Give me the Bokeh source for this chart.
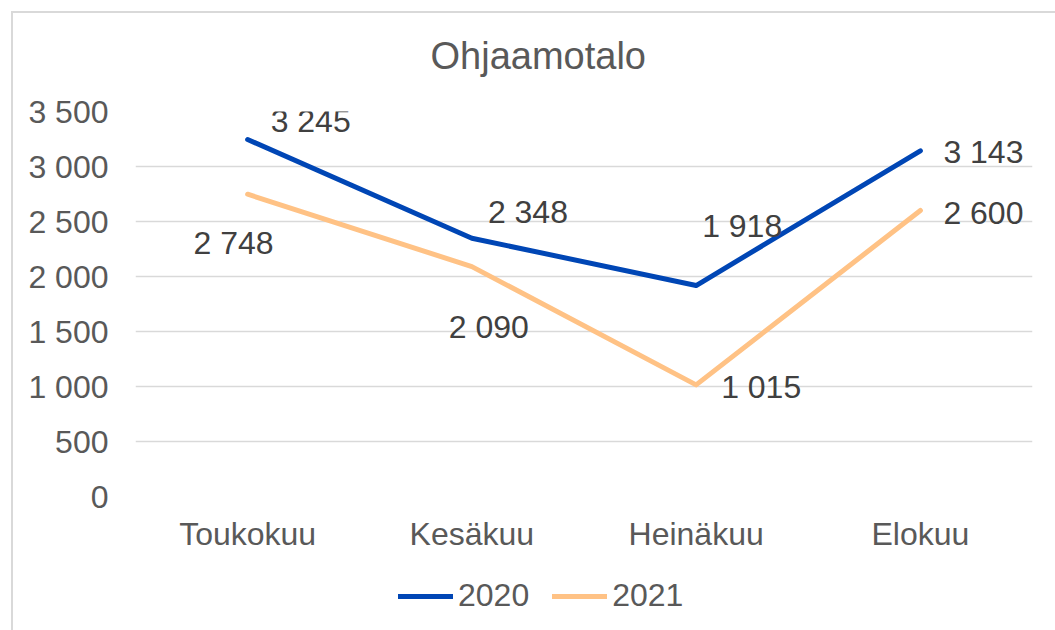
from bokeh.plotting import figure
from bokeh.layouts import column
from bokeh.models import ColumnDataSource, Legend, LegendItem, FixedTicker
from bokeh.embed import file_html
from bokeh.resources import INLINE
from bokeh.core.properties import value

months = ["Toukokuu", "Kesäkuu", "Heinäkuu", "Elokuu"]
v2020 = [3245, 2348, 1918, 3143]
v2021 = [2748, 2090, 1015, 2600]
y_ticks = [0, 500, 1000, 1500, 2000, 2500, 3000, 3500]
series_names = ["2020", "2021"]


def fmt(n):
    return f"{n:,}".replace(",", " ")


FONT = "Liberation Sans"
BLUE = "#0046B5"
ORANGE = "#FFC285"
LW = 5

p = figure(x_range=months, y_range=(0, 3500), width=1042, height=547,
           output_backend="svg", toolbar_location=None,
           min_border_left=122, min_border_right=23,
           min_border_top=98, min_border_bottom=64)
p.outline_line_color = None

p.title.text = "Ohjaamotalo"
p.title.align = "left"
p.title.offset = 295
try:
    p.title.padding = dict(left=0, right=0, top=0, bottom=30)
except Exception:
    p.title.padding = (0, 0, 0, 30)
p.title.text_font = FONT
p.title.text_font_size = "38px"
p.title.text_font_style = "normal"
p.title.text_color = "#595959"

p.xgrid.grid_line_color = None
p.ygrid.grid_line_color = "#d9d9d9"
p.ygrid.grid_line_width = 1.5
p.yaxis.ticker = FixedTicker(ticks=y_ticks)
p.yaxis.major_label_overrides = {t: fmt(t) for t in y_ticks}
for ax in (p.xaxis, p.yaxis):
    ax.axis_line_color = None
    ax.major_tick_line_color = None
    ax.minor_tick_line_color = None
    ax.major_label_text_font = FONT
    ax.major_label_text_font_size = "32px"
    ax.major_label_text_color = "#595959"
p.yaxis.major_label_standoff = 21
p.xaxis.major_label_standoff = 13
p.x_range.range_padding = 0

p.line(months, v2020, line_color=BLUE, line_width=LW, line_cap="round", line_join="round")
p.line(months, v2021, line_color=ORANGE, line_width=LW, line_cap="round", line_join="round")

lab1 = ColumnDataSource(dict(x=months, y=v2020, t=[fmt(v) for v in v2020],
                             dx=[23, 16, 6, 23], dy=[-19, -26, -60, 1],
                             al=["left", "left", "left", "left"]))
lab2 = ColumnDataSource(dict(x=months, y=v2021, t=[fmt(v) for v in v2021],
                             dx=[-14, 17, 25, 23], dy=[49, 60, 2, 2],
                             al=["center", "center", "left", "left"]))
for src in (lab1, lab2):
    p.text(x="x", y="y", text="t", source=src, x_offset="dx", y_offset="dy",
           text_align="al", text_baseline="middle", text_font=value(FONT),
           text_font_size="32px", text_color="#404040")

# legend strip below the chart (its lines lie outside the strip's visible range)
pl = figure(width=1042, height=70, output_backend="svg", toolbar_location=None,
            min_border_left=0, min_border_right=0, min_border_top=0, min_border_bottom=0,
            x_range=months, y_range=(-2, -1))
pl.axis.visible = False
pl.grid.visible = False
pl.outline_line_color = None
g1 = pl.line(months, v2020, line_color=BLUE, line_width=LW, line_cap="round")
g2 = pl.line(months, v2021, line_color=ORANGE, line_width=LW, line_cap="round")
legend = Legend(items=[LegendItem(label=series_names[0], renderers=[g1]),
                       LegendItem(label=series_names[1], renderers=[g2])],
                orientation="horizontal", location=(263, 16))
legend.border_line_color = None
legend.background_fill_alpha = 0
legend.label_text_font = FONT
legend.label_text_font_size = "32px"
legend.label_text_color = "#595959"
legend.glyph_width = 55
legend.glyph_height = 30
legend.label_standoff = 5
legend.spacing = 23
legend.padding = 0
legend.margin = 0
pl.add_layout(legend)

layout = column(p, pl, spacing=0,
                styles={"border-top": "2px solid #d9d9d9", "border-left": "2px solid #d9d9d9"})
layout.margin = (11, 0, 0, 11)

open("out.html", "w").write(file_html(layout, INLINE))
